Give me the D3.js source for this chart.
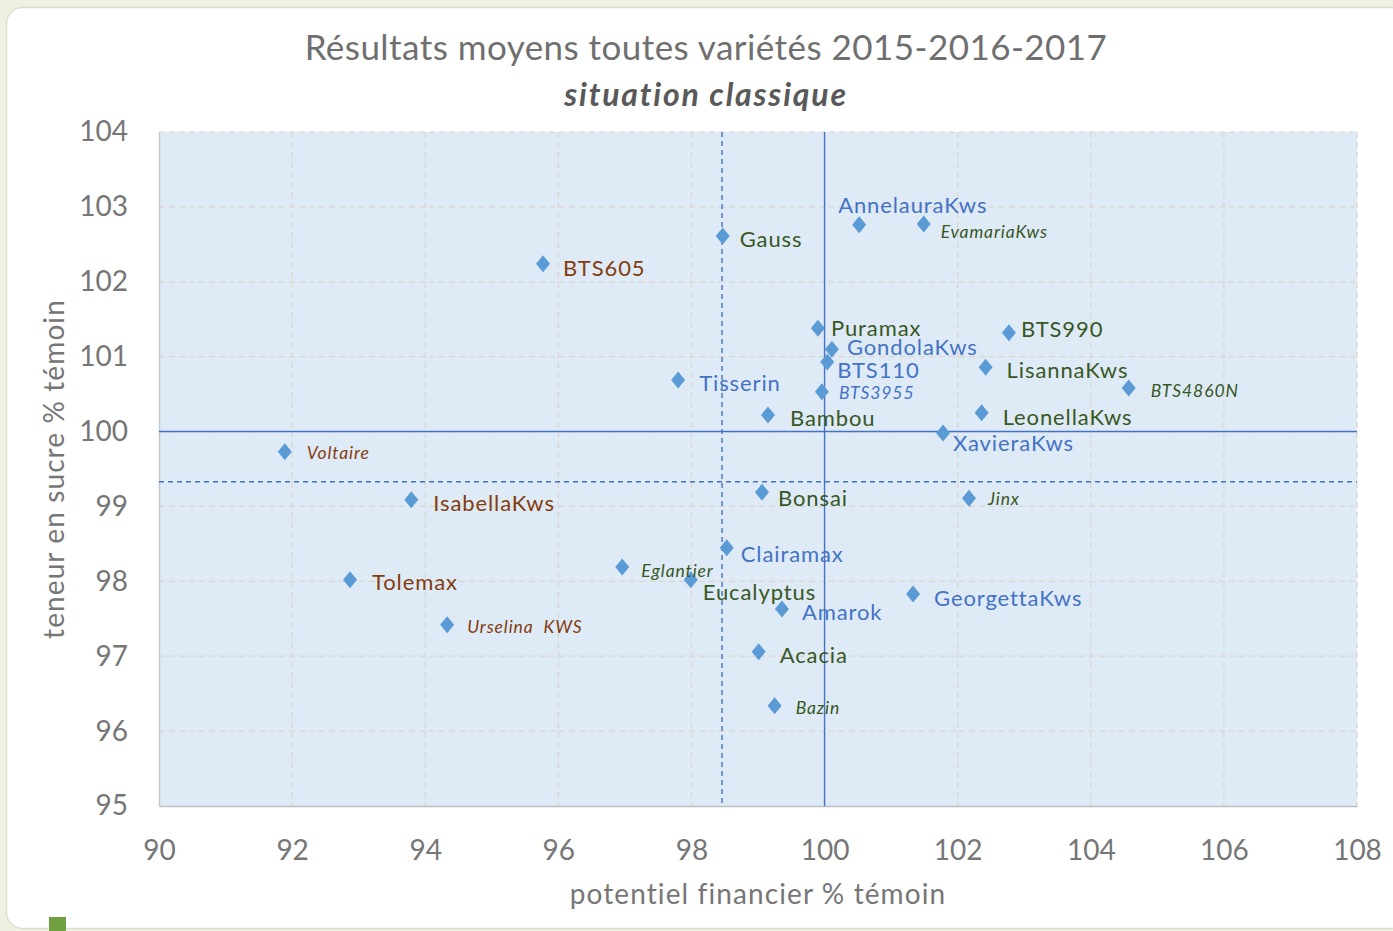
<!DOCTYPE html>
<html>
<head>
<meta charset="utf-8">
<script src="https://cdn.jsdelivr.net/npm/d3@7"></script>
<style>
    html, body { margin: 0; padding: 0; background: #eff1e3; }
    svg { display: block; }
</style>
</head>
<body>
<svg id="chart" width="1393" height="931"></svg>
<script>
// varieties and their results (% témoin)
var names = ["AnnelauraKws", "EvamariaKws", "Gauss", "BTS605", "Puramax", "GondolaKws", "BTS110",
    "BTS990", "LisannaKws", "BTS4860N", "Tisserin", "BTS3955", "Bambou", "LeonellaKws", "XavieraKws",
    "Voltaire", "IsabellaKws", "Bonsai", "Jinx", "Clairamax", "Eglantier", "Tolemax", "Eucalyptus",
    "GeorgettaKws", "Amarok", "Urselina  KWS", "Acacia", "Bazin"];
var financier = [100.52, 101.49, 98.47, 95.77, 99.90, 100.11, 100.04,
    102.77, 102.42, 104.57, 97.80, 99.96, 99.15, 102.36, 101.78,
    91.89, 93.79, 99.06, 102.17, 98.53, 96.96, 92.87, 97.99,
    101.33, 99.36, 94.33, 99.01, 99.25];
var sucre = [102.76, 102.77, 102.61, 102.24, 101.38, 101.10, 100.93,
    101.32, 100.86, 100.58, 100.69, 100.53, 100.22, 100.25, 99.98,
    99.73, 99.09, 99.19, 99.11, 98.45, 98.19, 98.02, 98.02,
    97.83, 97.63, 97.42, 97.06, 96.34];
// label group (colour in the original) and whether shown in italics
var groups = ["b", "g", "g", "r", "g", "b", "b",
    "g", "g", "g", "b", "b", "g", "g", "b",
    "r", "r", "g", "g", "b", "g", "r", "g",
    "b", "b", "r", "g", "g"];
var partial = [false, true, false, false, false, false, false,
    false, false, true, false, true, false, false, false,
    true, false, false, true, false, true, false, false,
    false, false, true, false, true];

var xTicks = [90, 92, 94, 96, 98, 100, 102, 104, 106, 108];
var yTicks = [95, 96, 97, 98, 99, 100, 101, 102, 103, 104];
var refX = 100, refY = 100;        // témoin
var meanX = 98.46, meanY = 99.33;  // dashed lines

// label offsets from the marker (px), kept apart from the data
var labelOffsets = [[-21, -12], [17, 14], [17, 11], [20, 12], [13, 8], [15, 6], [10, 16],
    [12, 4], [21, 11], [22, 9], [21, 11], [17, 7], [22, 11], [21, 12], [10, 18],
    [22, 7], [22, 11], [16, 14], [19, 7], [14, 14], [19, 10], [22, 10], [12, 20],
    [21, 12], [20, 11], [20, 8], [21, 11], [21, 8]];

var groupColor = { b: "#4472c4", g: "#385723", r: "#843c0c" };
var font = "Lato, 'Open Sans', sans-serif";

var svg = d3.select("#chart");
var pLeft = 159, pRight = 1357, pTop = 132, pBottom = 806;

// card
svg.append("rect")
    .attr("x", 6.5).attr("y", 7.5)
    .attr("width", 1400).attr("height", 921)
    .attr("rx", 16)
    .attr("fill", "#ffffff")
    .attr("stroke", "#dcdfcd")
    .attr("stroke-width", 1.5);

svg.append("rect")
    .attr("x", 49).attr("y", 917).attr("width", 17).attr("height", 14)
    .attr("fill", "#70a040");

var x = d3.scaleLinear().domain([90, 108]).range([pLeft, pRight]);
var y = d3.scaleLinear().domain([95, 104]).range([pBottom, pTop]);

svg.append("rect")
    .attr("x", pLeft).attr("y", pTop)
    .attr("width", pRight - pLeft).attr("height", pBottom - pTop)
    .attr("fill", "#deebf7");

// gridlines
var grid = svg.append("g").attr("stroke", "#dad6cf").attr("stroke-width", 1.2)
    .attr("stroke-dasharray", "6,4");
grid.selectAll(".gx").data(xTicks.slice(1)).enter().append("line")
    .attr("x1", function (d) { return x(d); }).attr("x2", function (d) { return x(d); })
    .attr("y1", pTop).attr("y2", pBottom);
grid.selectAll(".gy").data(yTicks.slice(1)).enter().append("line")
    .attr("x1", pLeft).attr("x2", pRight)
    .attr("y1", function (d) { return y(d); }).attr("y2", function (d) { return y(d); });

// axes
var xAxis = svg.append("g")
    .attr("transform", "translate(0," + pBottom + ")")
    .call(d3.axisBottom(x).tickValues(xTicks).tickSize(0).tickPadding(34));
var yAxis = svg.append("g")
    .attr("transform", "translate(" + pLeft + ",0)")
    .call(d3.axisLeft(y).tickValues(yTicks).tickSize(0).tickPadding(31));
[xAxis, yAxis].forEach(function (a) {
    a.select(".domain").attr("stroke", "#bfbfbf").attr("stroke-width", 1.5);
    a.selectAll("text").attr("fill", "#767676").style("font-family", font).style("font-size", "28px");
});
yAxis.select(".domain").attr("stroke", "#c8c8c8");

// reference lines
var refs = svg.append("g").attr("stroke", "#4472c4").attr("stroke-width", 1.4);
refs.append("line").attr("x1", x(refX)).attr("x2", x(refX)).attr("y1", pTop).attr("y2", pBottom);
refs.append("line").attr("x1", pLeft).attr("x2", pRight).attr("y1", y(refY)).attr("y2", y(refY));
refs.append("line").attr("x1", x(meanX)).attr("x2", x(meanX)).attr("y1", pTop).attr("y2", pBottom)
    .attr("stroke-dasharray", "5,4");
refs.append("line").attr("x1", pLeft).attr("x2", pRight).attr("y1", y(meanY)).attr("y2", y(meanY))
    .attr("stroke-dasharray", "5,4");

// points
var data = names.map(function (n, i) {
    return { name: n, fx: financier[i], sy: sucre[i], group: groups[i], partial: partial[i], off: labelOffsets[i] };
});

function diamond(cx, cy) {
    var p = d3.path();
    p.moveTo(cx, cy - 8.5);
    p.lineTo(cx + 7, cy);
    p.lineTo(cx, cy + 8.5);
    p.lineTo(cx - 7, cy);
    p.closePath();
    return p.toString();
}

var pts = svg.append("g");
pts.selectAll("path").data(data).enter().append("path")
    .attr("d", function (d) { return diamond(x(d.fx), y(d.sy)); })
    .attr("fill", "#5b9bd5");

pts.selectAll("text").data(data).enter().append("text")
    .attr("x", function (d) { return x(d.fx) + d.off[0]; })
    .attr("y", function (d) { return y(d.sy) + d.off[1]; })
    .attr("fill", function (d) { return groupColor[d.group]; })
    .style("font-family", font)
    .style("font-size", function (d) { return d.partial ? "17.5px" : "22px"; })
    .style("letter-spacing", function (d) { return d.partial ? "0.9px" : "0.9px"; })
    .style("font-style", function (d) { return d.partial ? "italic" : "normal"; })
    .style("white-space", "pre")
    .text(function (d) { return d.name; });

// titles
svg.append("text")
    .attr("x", 706).attr("y", 60)
    .attr("text-anchor", "middle")
    .attr("fill", "#6f6f6f")
    .style("font-family", font).style("font-size", "35px").style("letter-spacing", "0.45px")
    .text("Résultats moyens toutes variétés 2015-2016-2017");
svg.append("text")
    .attr("x", 706).attr("y", 106)
    .attr("text-anchor", "middle")
    .attr("fill", "#595959")
    .style("font-family", font).style("font-size", "32px").style("letter-spacing", "1.8px")
    .style("font-weight", "bold").style("font-style", "italic")
    .text("situation classique");

svg.append("text")
    .attr("x", 758).attr("y", 904)
    .attr("text-anchor", "middle")
    .attr("fill", "#767676")
    .style("font-family", font).style("font-size", "28px").style("letter-spacing", "1.1px")
    .text("potentiel financier % témoin");
svg.append("text")
    .attr("transform", "translate(64,469) rotate(-90)")
    .attr("text-anchor", "middle")
    .attr("fill", "#767676")
    .style("font-family", font).style("font-size", "28px").style("letter-spacing", "1.1px")
    .text("teneur en sucre % témoin");
</script>
</body>
</html>
